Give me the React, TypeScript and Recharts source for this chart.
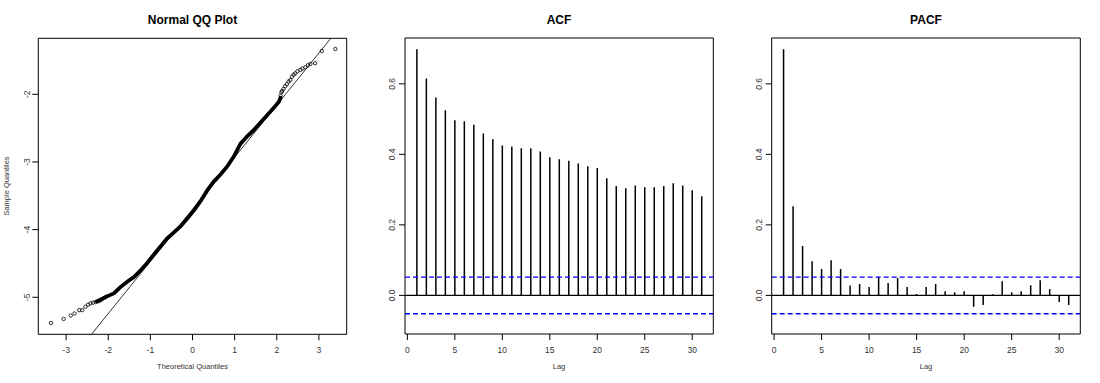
import { Bar, ComposedChart, Line, ReferenceArea, ReferenceLine, Scatter, XAxis, YAxis } from 'recharts';

// QQ plot: sparse points in the tails
const qqTailTheoretical = [
  -3.36, -3.06, -2.89, -2.8, -2.69, -2.62, -2.54, -2.48, -2.42, -2.36, -2.3, -2.25, -2.2, -2.15, -2.1, -2.05,
  2.09, 2.11, 2.13, 2.16, 2.2, 2.24, 2.28, 2.32, 2.36, 2.4, 2.44, 2.49, 2.56, 2.61, 2.68, 2.74, 2.8, 2.91, 3.07, 3.39,
];
const qqTailSample = [
  -5.38, -5.32, -5.27, -5.24, -5.19, -5.19, -5.14, -5.11, -5.09, -5.08, -5.07, -5.06, -5.05, -5.03, -5.01, -4.99,
  -2.02, -1.97, -1.95, -1.92, -1.88, -1.85, -1.81, -1.79, -1.74, -1.71, -1.69, -1.66, -1.64, -1.62, -1.6, -1.57, -1.55, -1.54, -1.36, -1.33,
];
// QQ plot: the dense middle, where the circles merge into one band
const qqBandTheoretical = [
  -2.27, -2.04, -1.86, -1.71, -1.55, -1.39, -1.23, -1.07, -0.92, -0.76, -0.6, -0.44, -0.28, -0.13, 0.03, 0.19,
  0.35, 0.505, 0.66, 0.82, 0.98, 1.14, 1.3, 1.45, 1.61, 1.77, 1.93, 2.05, 2.09,
];
const qqBandSample = [
  -5.06, -4.99, -4.94, -4.85, -4.77, -4.7, -4.6, -4.49, -4.37, -4.25, -4.13, -4.04, -3.95, -3.84, -3.72, -3.58,
  -3.42, -3.29, -3.19, -3.07, -2.92, -2.73, -2.62, -2.53, -2.42, -2.31, -2.2, -2.11, -2.05,
];
const qqLineIntercept = -3.7;
const qqLineSlope = 0.77;
const qqTicksX = [-3, -2, -1, 0, 1, 2, 3];
const qqTicksY = [-5, -4, -3, -2];

// ACF / PACF
const lags = [1, 2, 3, 4, 5, 6, 7, 8, 9, 10, 11, 12, 13, 14, 15, 16, 17, 18, 19, 20, 21, 22, 23, 24, 25, 26, 27, 28, 29, 30, 31];
const acfValues = [
  0.698, 0.615, 0.561, 0.525, 0.497, 0.494, 0.484, 0.459, 0.443, 0.425, 0.422, 0.417, 0.417, 0.408, 0.392, 0.386,
  0.382, 0.374, 0.366, 0.361, 0.332, 0.31, 0.304, 0.312, 0.307, 0.307, 0.31, 0.318, 0.312, 0.298, 0.281,
];
const pacfValues = [
  0.698, 0.253, 0.14, 0.097, 0.075, 0.1, 0.075, 0.028, 0.032, 0.0235, 0.053, 0.035, 0.049, 0.0235, 0.004, 0.0235,
  0.032, 0.012, 0.009, 0.012, -0.032, -0.027, 0.003, 0.04, 0.009, 0.012, 0.029, 0.043, 0.018, -0.019, -0.027,
];
const ciBound = 0.052;
const lagTicks = [0, 5, 10, 15, 20, 25, 30];
const corrTicks = [0, 0.2, 0.4, 0.6];

const qqPoints = qqTailTheoretical.map((x, i) => ({ x, y: qqTailSample[i] }));
const qqBand = qqBandTheoretical.map((x, i) => ({ x, y: qqBandSample[i] }));
const acfRows = lags.map((lag, i) => ({ lag, acf: acfValues[i] }));
const pacfRows = lags.map((lag, i) => ({ lag, pacf: pacfValues[i] }));

const QQ_X: [number, number] = [-3.66, 3.66];
const QQ_Y: [number, number] = [-5.547, -1.172];
const LAG_X: [number, number] = [-0.25, 32.22];
const CORR_Y: [number, number] = [-0.1095, 0.73];

const tickColor = '#333';
const font = '"Liberation Sans", Arial, sans-serif';

const RotTick = (props: any) => {
  const { x, y, payload, fmt } = props;
  return (
    <text x={x} y={y} transform={`rotate(-90 ${x} ${y})`} textAnchor='middle' dy='0.35em' fontSize={8.5} fill={tickColor}>
      {fmt(payload.value)}
    </text>
  );
};

const Title = ({ cx, text }: { cx: number; text: string }) => (
  <div style={{ position: 'absolute', left: cx - 100, width: 200, top: 13.5, textAlign: 'center', fontSize: 12, lineHeight: '12px', fontWeight: 'bold' }}>
    {text}
  </div>
);

const AxisTitle = ({ cx, text }: { cx: number; text: string }) => (
  <div style={{ position: 'absolute', left: cx - 100, width: 200, top: 363, textAlign: 'center', fontSize: 7.5, lineHeight: '8px', color: tickColor }}>
    {text}
  </div>
);

const AcfPanel = ({ rows, dataKey, left, right }: { rows: any[]; dataKey: string; left: number; right: number }) => (
  <ComposedChart width={370} height={383} data={rows} margin={{ top: 38, right, bottom: 19, left }}>
    <XAxis
      dataKey='lag'
      type='number'
      domain={LAG_X}
      ticks={lagTicks}
      allowDataOverflow
      height={30}
      axisLine={false}
      tickSize={6}
      tickMargin={6.5}
      tickLine={{ stroke: '#000' }}
      tick={{ fontSize: 8.5, fill: tickColor }}
      interval={0}
    />
    <YAxis
      type='number'
      domain={CORR_Y}
      ticks={corrTicks}
      allowDataOverflow
      width={20}
      axisLine={false}
      tickSize={6}
      tickMargin={7}
      tickLine={{ stroke: '#000' }}
      tick={(p: any) => <RotTick {...p} fmt={(v: number) => v.toFixed(1)} />}
      interval={0}
    />
    <ReferenceArea x1={LAG_X[0]} x2={LAG_X[1]} y1={CORR_Y[0]} y2={CORR_Y[1]} fill='none' stroke='#000' strokeWidth={1} fillOpacity={0} />
    <ReferenceLine y={ciBound} stroke='#0000ff' strokeWidth={1.3} strokeDasharray='5 3' />
    <ReferenceLine y={-ciBound} stroke='#0000ff' strokeWidth={1.3} strokeDasharray='5 3' />
    <Bar dataKey={dataKey} barSize={1.5} fill='#000' isAnimationActive={false} />
    <ReferenceLine y={0} stroke='#000' strokeWidth={1.3} />
  </ComposedChart>
);

export default function App() {
  return (
    <div style={{ position: 'absolute', top: 0, left: 0, width: 1100, height: 383, background: '#fff', fontFamily: font, color: '#000' }}>
      <Title cx={192.5} text='Normal QQ Plot' />
      <Title cx={559} text='ACF' />
      <Title cx={926} text='PACF' />
      <AxisTitle cx={192.5} text='Theoretical Quantiles' />
      <AxisTitle cx={559} text='Lag' />
      <AxisTitle cx={926} text='Lag' />
      <div
        style={{
          position: 'absolute',
          left: 6.7,
          top: 185.5,
          transform: 'translate(-50%, -50%) rotate(-90deg)',
          whiteSpace: 'nowrap',
          fontSize: 7.5,
          lineHeight: '8px',
          color: tickColor,
        }}
      >
        Sample Quantiles
      </div>

      <div style={{ position: 'absolute', left: 0, top: 0 }}>
        <ComposedChart width={360} height={383} margin={{ top: 38.3, right: 13.3, bottom: 18.7, left: 18.3 }}>
          <XAxis
            dataKey='x'
            type='number'
            domain={QQ_X}
            ticks={qqTicksX}
            allowDataOverflow
            height={30}
            axisLine={false}
            tickSize={6}
            tickMargin={6.5}
            tickLine={{ stroke: '#000' }}
            tick={{ fontSize: 8.5, fill: tickColor }}
            interval={0}
          />
          <YAxis
            dataKey='y'
            type='number'
            domain={QQ_Y}
            ticks={qqTicksY}
            allowDataOverflow
            width={20}
            axisLine={false}
            tickSize={6}
            tickMargin={5}
            tickLine={{ stroke: '#000' }}
            tick={(p: any) => <RotTick {...p} fmt={(v: number) => String(v)} />}
            interval={0}
          />
          <ReferenceArea x1={QQ_X[0]} x2={QQ_X[1]} y1={QQ_Y[0]} y2={QQ_Y[1]} fill='none' stroke='#000' strokeWidth={1} fillOpacity={0} />
          <ReferenceLine
            segment={[
              { x: -4, y: qqLineIntercept - 4 * qqLineSlope },
              { x: 4, y: qqLineIntercept + 4 * qqLineSlope },
            ]}
            stroke='#000'
            strokeWidth={0.8}
            ifOverflow='hidden'
          />
          <Line data={qqBand} dataKey='y' type='linear' stroke='#000' strokeWidth={3.8} strokeLinecap='round' dot={false} isAnimationActive={false} />
          <Scatter
            data={qqPoints}
            isAnimationActive={false}
            shape={(p: any) => <circle cx={p.cx} cy={p.cy} r={1.7} fill='none' stroke='#000' strokeWidth={0.8} />}
          />
        </ComposedChart>
      </div>

      <div style={{ position: 'absolute', left: 360, top: 0 }}>
        <AcfPanel rows={acfRows} dataKey='acf' left={25} right={16.7} />
      </div>
      <div style={{ position: 'absolute', left: 730, top: 0 }}>
        <AcfPanel rows={pacfRows} dataKey='pacf' left={21.7} right={19.7} />
      </div>
    </div>
  );
}
